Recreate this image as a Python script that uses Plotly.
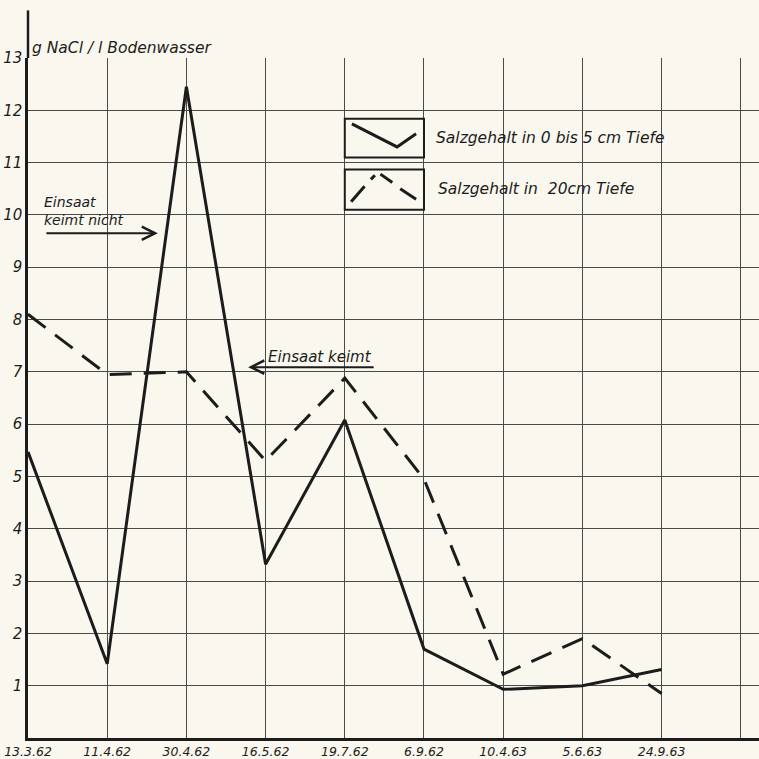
import plotly.graph_objects as go

dates = ["13.3.62", "11.4.62", "30.4.62", "16.5.62", "19.7.62",
         "6.9.62", "10.4.63", "5.6.63", "24.9.63"]
salt_0_5cm = [5.47, 1.42, 12.45, 3.32, 6.08, 1.70, 0.93, 1.00, 1.31]
salt_20cm = [8.10, 6.95, 7.00, 5.30, 6.88, 4.95, 1.22, 1.90, 0.85]
y_ticks = list(range(1, 14))
name_0_5 = "Salzgehalt in 0 bis 5 cm Tiefe"
name_20 = "Salzgehalt in  20cm Tiefe"

ink = "#1c1c1c"
grid = "#4a4a4a"
bg = "#f9f7ee"
fam = "DejaVu Sans"

xi = list(range(len(dates)))
tickvals = xi + [len(dates)]
ticktext = dates + [""]

fig = go.Figure()
fig.add_trace(go.Scatter(x=xi, y=salt_0_5cm, mode="lines", name=name_0_5,
                         line=dict(color=ink, width=3), cliponaxis=False))
fig.add_trace(go.Scatter(x=xi, y=salt_20cm, mode="lines", name=name_20,
                         line=dict(color=ink, width=3, dash="22px,12px"), cliponaxis=False))

# legend boxes (aligned with grid columns 4..5)
fig.add_shape(type="rect", x0=4, x1=5, y0=11.1, y1=11.84, xref="x", yref="y",
              line=dict(color=ink, width=2), fillcolor=bg, layer="above")
fig.add_shape(type="rect", x0=4, x1=5, y0=10.1, y1=10.87, xref="x", yref="y",
              line=dict(color=ink, width=2), fillcolor=bg, layer="above")
fig.add_shape(type="path", xref="x", yref="y",
              path="M 4.09,11.74 L 4.66,11.3 L 4.9,11.55",
              line=dict(color=ink, width=3), layer="above")
fig.add_shape(type="path", xref="x", yref="y",
              path="M 4.08,10.25 L 4.25,10.55 M 4.33,10.68 L 4.38,10.76 M 4.45,10.78 L 4.6,10.62 M 4.7,10.5 L 4.9,10.3",
              line=dict(color=ink, width=3), layer="above")

fig.add_annotation(x=5.12, y=11.47, xref="x", yref="y", text=name_0_5, showarrow=False,
                   xanchor="left", font=dict(family=fam, size=15.5, color=ink, style="italic"))
fig.add_annotation(x=5.15, y=10.5, xref="x", yref="y", text=name_20, showarrow=False,
                   xanchor="left", font=dict(family=fam, size=15.5, color=ink, style="italic"))

# y-axis title
fig.add_annotation(x=0.03, y=12.98, xref="x", yref="y", text="g NaCl / l Bodenwasser",
                   showarrow=False, xanchor="left", yanchor="bottom",
                   font=dict(family=fam, size=15.5, color=ink, style="italic"))

# Einsaat keimt nicht
fig.add_annotation(x=0.18, y=9.72, xref="x", yref="y", text="Einsaat<br>keimt nicht",
                   showarrow=False, xanchor="left", yanchor="bottom", align="left",
                   font=dict(family=fam, size=14, color=ink, style="italic"))
fig.add_annotation(x=1.64, y=9.65, xref="x", yref="y", text="", showarrow=True,
                   ax=-113, ay=0, arrowhead=5, arrowsize=1.3, arrowwidth=2, arrowcolor=ink)

# Einsaat keimt
fig.add_annotation(x=3.0, y=7.08, xref="x", yref="y", text="Einsaat keimt",
                   showarrow=False, xanchor="left", yanchor="bottom",
                   font=dict(family=fam, size=15, color=ink, style="italic"))
fig.add_annotation(x=2.78, y=7.09, xref="x", yref="y", text="", showarrow=True,
                   ax=127, ay=0, arrowhead=5, arrowsize=1.3, arrowwidth=2, arrowcolor=ink)

# y-axis extension above the grid
fig.add_shape(type="line", xref="paper", yref="paper", x0=0, x1=0, y0=1, y1=1.07,
              line=dict(color=ink, width=2.5))

fig.update_layout(
    width=759, height=759,
    margin=dict(l=28, r=0, t=58, b=19),
    paper_bgcolor=bg, plot_bgcolor=bg,
    showlegend=False,
    xaxis=dict(range=[0, 9.23], tickvals=tickvals, ticktext=ticktext,
               showgrid=True, gridcolor=grid, gridwidth=1, zeroline=False,
               showline=True, linecolor=ink, linewidth=2.5, ticks="",
               tickfont=dict(family=fam, size=12.5, color=ink, style="italic")),
    yaxis=dict(range=[0, 13], tickvals=y_ticks,
               showgrid=True, gridcolor=grid, gridwidth=1, zeroline=False,
               showline=True, linecolor=ink, linewidth=2.5, ticks="",
               tickfont=dict(family=fam, size=15, color=ink, style="italic")),
)

fig.write_html("out.html", config={"displayModeBar": False},
               post_script="document.body.style.margin='0';document.body.style.padding='0';"
                           "document.body.style.overflow='hidden';")
